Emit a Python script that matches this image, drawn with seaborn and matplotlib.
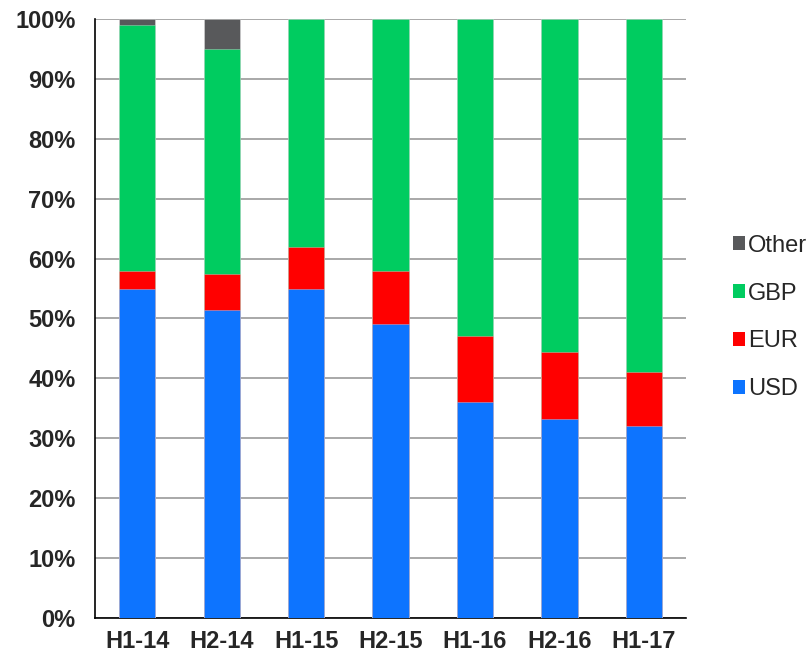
import matplotlib
matplotlib.use("Agg")
import matplotlib.pyplot as plt
from matplotlib.patches import Patch
from matplotlib.ticker import PercentFormatter
import seaborn as sns
import pandas as pd
import numpy as np

# Currency mix by half-year (share of total, %)
periods = ["H1-14", "H2-14", "H1-15", "H2-15", "H1-16", "H2-16", "H1-17"]
usd = [55.0, 51.5, 55.0, 49.0, 36.0, 33.3, 32.0]
eur = [3.0, 6.0, 7.0, 9.0, 11.0, 11.1, 9.0]
gbp = [41.0, 37.5, 38.0, 42.0, 53.0, 55.6, 59.0]
other = [1.0, 5.0, 0.0, 0.0, 0.0, 0.0, 0.0]

series = ["USD", "EUR", "GBP", "Other"]
colors = {"USD": "#0D74FF", "EUR": "#FF0000", "GBP": "#00CC60", "Other": "#58595B"}

df = pd.DataFrame({"period": periods, "USD": usd, "EUR": eur, "GBP": gbp, "Other": other})
cum = df[series].cumsum(axis=1)

sns.set_theme(style="white")
plt.rcParams["font.family"] = ["Liberation Sans", "DejaVu Sans"]

fig = plt.figure(figsize=(8.12, 6.56), dpi=100)
ax = fig.add_axes([0.117, 0.058, 0.728, 0.913])

# stacked bars: draw cumulative totals from the top segment down
for name in reversed(series):
    sns.barplot(x=df["period"], y=cum[name], color=colors[name], width=0.43,
                saturation=1, ax=ax, zorder=3, linewidth=0.6,
                edgecolor=(1, 1, 1, 0.35))

ax.set_ylim(0, 100)
ax.set_xlim(-0.5, len(periods) - 0.5)
ax.set_yticks(np.arange(0, 101, 10))
ax.yaxis.set_major_formatter(PercentFormatter(decimals=0))
ax.grid(axis="y", color="#9A9A9A", linewidth=1.2, zorder=0)
ax.set_axisbelow(True)
ax.set_xlabel("")
ax.set_ylabel("")

for s in ["top", "right"]:
    ax.spines[s].set_visible(False)
ax.spines["left"].set_color("black")
ax.spines["bottom"].set_color("black")
ax.spines["left"].set_linewidth(1.2)
ax.spines["bottom"].set_linewidth(1.2)

ax.tick_params(axis="y", length=0, pad=14, labelsize=17)
ax.tick_params(axis="x", length=0, pad=9, labelsize=17)
for lbl in ax.get_xticklabels() + ax.get_yticklabels():
    lbl.set_fontweight("bold")

handles = [Patch(facecolor=colors[n], edgecolor="none", label=n) for n in reversed(series)]
fig.legend(handles=handles, loc="center left", bbox_to_anchor=(0.9025, 0.516),
           frameon=False, fontsize=17, handlelength=0.5, handleheight=0.5,
           handletextpad=0.15, labelspacing=1.1, borderpad=0, borderaxespad=0)

fig.savefig("out.png", dpi=100)
